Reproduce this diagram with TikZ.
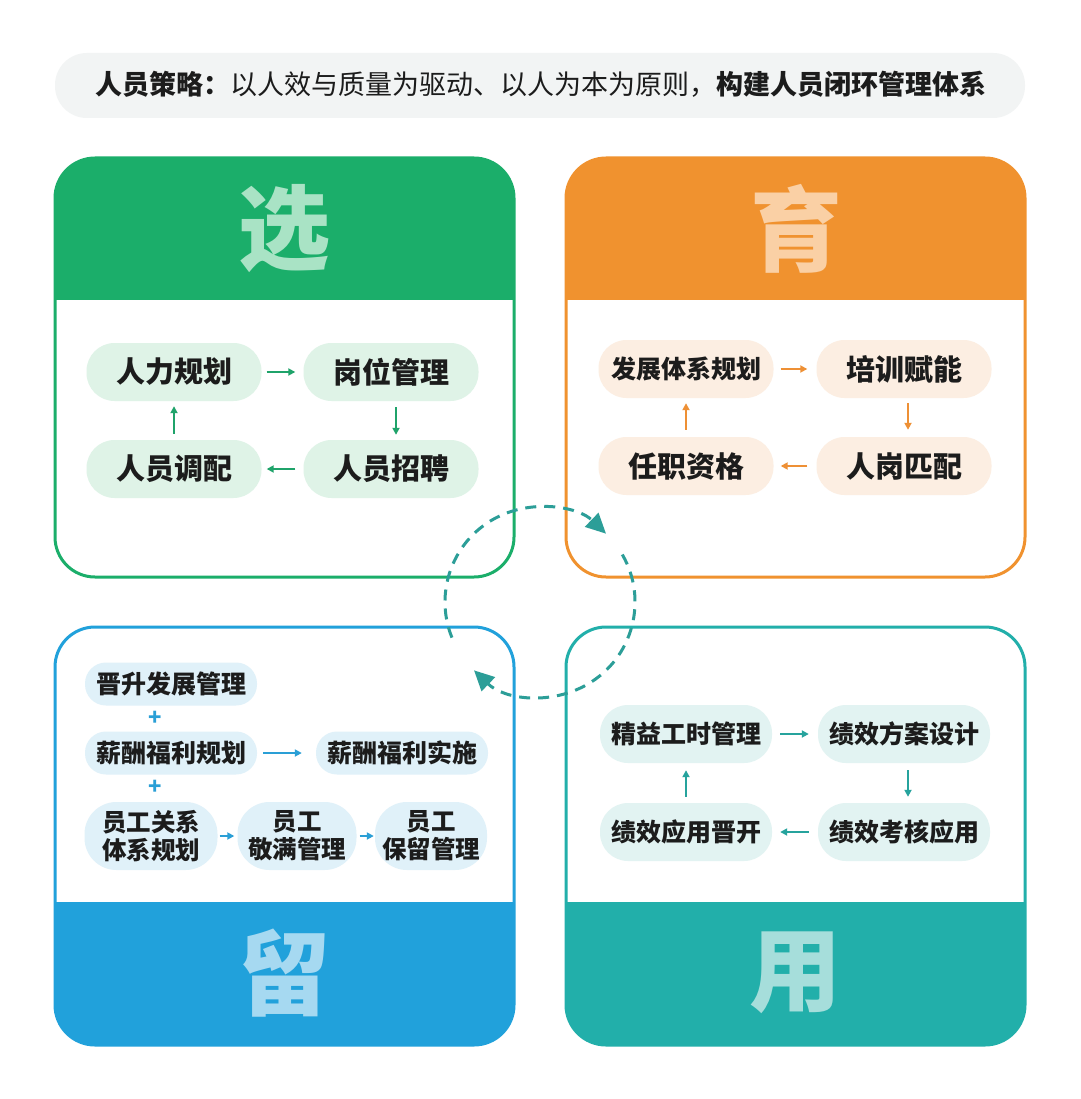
\documentclass[tikz,border=0pt]{standalone}
\usepackage{fontspec}
\setmainfont{Noto Sans CJK SC}
\usetikzlibrary{arrows.meta}
\definecolor{gH}{HTML}{1BAE6A}\definecolor{gL}{HTML}{A9E3C5}\definecolor{gP}{HTML}{DFF3E7}\definecolor{gA}{HTML}{1FA36A}
\definecolor{oH}{HTML}{F0922F}\definecolor{oL}{HTML}{FAD0A5}\definecolor{oP}{HTML}{FCEEE2}\definecolor{oA}{HTML}{EE9035}
\definecolor{bH}{HTML}{21A1DB}\definecolor{bL}{HTML}{A6D9F1}\definecolor{bP}{HTML}{E0F1F9}\definecolor{bA}{HTML}{2A9FD6}
\definecolor{tH}{HTML}{22AFAA}\definecolor{tL}{HTML}{A6DEDB}\definecolor{tP}{HTML}{E2F3F2}\definecolor{tA}{HTML}{26A39D}
\definecolor{dashc}{HTML}{2C9E98}\definecolor{banner}{HTML}{F2F4F4}\definecolor{ink}{HTML}{1C1C1C}
\tikzset{
  pill/.style={rounded corners=28pt, minimum width=175pt, minimum height=58pt, inner sep=0pt, text=ink,
    font=\fontsize{29pt}{34pt}\selectfont\bfseries},
  smallpill/.style={pill, rounded corners=21pt, minimum width=172pt, minimum height=43pt,
    font=\fontsize{25pt}{28pt}\selectfont\bfseries},
  twopill/.style={pill, rounded corners=32pt, minimum height=68pt, align=center,
    font=\fontsize{24.5pt}{28pt}\selectfont\bfseries},
  bigchar/.style={inner sep=0pt, font=\fontsize{92pt}{92pt}\selectfont\bfseries},
  flow/.style={draw=#1, line width=2pt, -{Triangle[length=7pt,width=7pt]}},
  dashcirc/.style={draw=dashc, line width=3pt, dash pattern=on 11pt off 8pt, -{Triangle[length=20pt,width=19pt]}},
}
\begin{document}
\begin{tikzpicture}[x=1pt,y=-1pt]
\useasboundingbox (0,0) rectangle (1080,1099);
\fill[white] (0,0) rectangle (1080,1099);
% banner
\fill[banner, rounded corners=32pt] (55,53) rectangle (1025,118);
\node[inner sep=0pt, text=ink, font=\fontsize{27pt}{32pt}\selectfont] (title) at (541,84)
  {\textbf{人员策略：}以人效与质量为驱动、以人为本为原则，\textbf{构建人员闭环管理体系}};
% quadrant TL
\begin{scope}
  \clip[rounded corners=40pt] (55,158) rectangle (514,577);
  \fill[white] (55,158) rectangle (514,577);
  \fill[gH] (55,158) rectangle (514,300);
\end{scope}
\draw[gH, line width=3pt, rounded corners=40pt] (55,158) rectangle (514,577);
\node[bigchar, text=gL] (hg) at (284,229) {选};
% quadrant TR
\begin{scope}
  \clip[rounded corners=40pt] (566,158) rectangle (1025,577);
  \fill[white] (566,158) rectangle (1025,577);
  \fill[oH] (566,158) rectangle (1025,300);
\end{scope}
\draw[oH, line width=3pt, rounded corners=40pt] (566,158) rectangle (1025,577);
\node[bigchar, text=oL] (ho) at (796,229) {育};
% quadrant BL
\begin{scope}
  \clip[rounded corners=40pt] (55,627) rectangle (514,1045);
  \fill[white] (55,627) rectangle (514,1045);
  \fill[bH] (55,902) rectangle (514,1045);
\end{scope}
\draw[bH, line width=3pt, rounded corners=40pt] (55,627) rectangle (514,1045);
\node[bigchar, text=bL] (hb) at (284,973) {留};
% quadrant BR
\begin{scope}
  \clip[rounded corners=40pt] (566,627) rectangle (1025,1045);
  \fill[white] (566,627) rectangle (1025,1045);
  \fill[tH] (566,902) rectangle (1025,1045);
\end{scope}
\draw[tH, line width=3pt, rounded corners=40pt] (566,627) rectangle (1025,1045);
\node[bigchar, text=tL] (ht) at (795,973) {用};
% TL nodes
\node[pill, fill=gP] (a1) at (174,372) {人力规划};
\node[pill, fill=gP] (a2) at (391,372) {岗位管理};
\node[pill, fill=gP] (a3) at (391,469) {人员招聘};
\node[pill, fill=gP] (a4) at (174,469) {人员调配};
\draw[flow=gA, shorten <=5pt, shorten >=8pt] (a1.east) -- (a2.west);
\draw[flow=gA, shorten <=6pt, shorten >=5pt] ([xshift=5pt]a2.south) -- ([xshift=5pt]a3.north);
\draw[flow=gA, shorten <=8pt, shorten >=5pt] (a3.west) -- (a4.east);
\draw[flow=gA, shorten <=6pt, shorten >=5pt] (a4.north) -- (a1.south);
% TR nodes
\node[pill, fill=oP, font=\fontsize{25pt}{28pt}\selectfont\bfseries] (b1) at (686,369) {发展体系规划};
\node[pill, fill=oP] (b2) at (904,369) {培训赋能};
\node[pill, fill=oP] (b3) at (904,466) {人岗匹配};
\node[pill, fill=oP] (b4) at (686,466) {任职资格};
\draw[flow=oA, shorten <=7pt, shorten >=9pt] (b1.east) -- (b2.west);
\draw[flow=oA, shorten <=5pt, shorten >=7pt] ([xshift=4pt]b2.south) -- ([xshift=4pt]b3.north);
\draw[flow=oA, shorten <=9pt, shorten >=7pt] (b3.west) -- (b4.east);
\draw[flow=oA, shorten <=7pt, shorten >=5pt] (b4.north) -- (b1.south);
% BL nodes
\node[smallpill, fill=bP] (c1) at (171,684) {晋升发展管理};
\node[smallpill, fill=bP] (c2) at (171,753) {薪酬福利规划};
\node[smallpill, fill=bP] (c3) at (402,753) {薪酬福利实施};
\node[twopill, fill=bP, minimum width=133pt] (c4) at (151,836) {员工关系\\体系规划};
\node[twopill, fill=bP, minimum width=119pt] (c5) at (297,836) {员工\\敬满管理};
\node[twopill, fill=bP, minimum width=112pt] (c6) at (431,836) {员工\\保留管理};
\node[inner sep=0pt, text=bA, font=\fontsize{22pt}{22pt}\selectfont\bfseries] (p1) at (155,718) {+};
\node[inner sep=0pt, text=bA, font=\fontsize{22pt}{22pt}\selectfont\bfseries] (p2) at (155,787) {+};
\draw[flow=bA, shorten <=6pt, shorten >=14pt] (c2.east) -- (c3.west);
\draw[flow=bA, shorten <=2pt, shorten >=3pt] (c4.east) -- (c5.west);
\draw[flow=bA, shorten <=3pt, shorten >=1pt] (c5.east) -- (c6.west);
% BR nodes
\node[pill, fill=tP, minimum width=172pt, font=\fontsize{25pt}{28pt}\selectfont\bfseries] (d1) at (686,734) {精益工时管理};
\node[pill, fill=tP, minimum width=172pt, font=\fontsize{25pt}{28pt}\selectfont\bfseries] (d2) at (904,734) {绩效方案设计};
\node[pill, fill=tP, minimum width=172pt, font=\fontsize{25pt}{28pt}\selectfont\bfseries] (d3) at (904,832) {绩效考核应用};
\node[pill, fill=tP, minimum width=172pt, font=\fontsize{25pt}{28pt}\selectfont\bfseries] (d4) at (686,832) {绩效应用晋开};
\draw[flow=tA, shorten <=8pt, shorten >=9pt] (d1.east) -- (d2.west);
\draw[flow=tA, shorten <=7pt, shorten >=6pt] ([xshift=4pt]d2.south) -- ([xshift=4pt]d3.north);
\draw[flow=tA, shorten <=9pt, shorten >=8pt] (d3.west) -- (d4.east);
\draw[flow=tA, shorten <=6pt, shorten >=7pt] (d4.north) -- (d1.south);
% dashed cycle
\coordinate (cc) at (540,602);
\draw[dashcirc] (cc) ++(158:95) arc[start angle=158, end angle=314, radius=95];
\draw[dashcirc] (cc) ++(330:95) arc[start angle=330, end angle=494, radius=95];
\end{tikzpicture}
\end{document}
